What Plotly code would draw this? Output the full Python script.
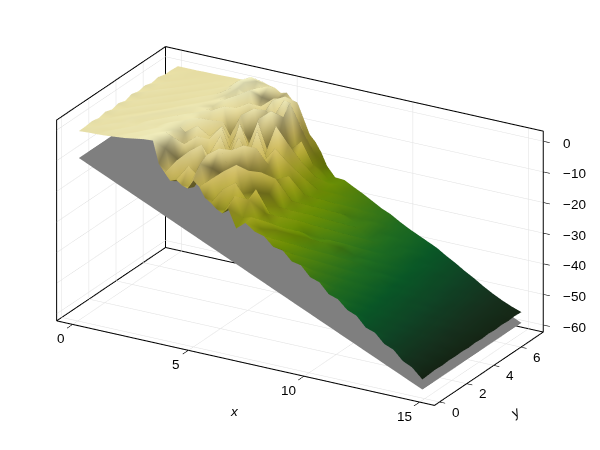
import plotly.graph_objects as go

# axis limits and ticks
x_lim = [-0.69, 15.64]
y_lim = [-0.375, 7.65]
z_lim = [-62.3, 3.3]
x_ticks = [0, 5, 10, 15]
y_ticks = [0, 2, 4, 6]
z_ticks = [0, -10, -20, -30, -40, -50, -60]

# surface nodes, one list of heights per y position
x_nodes = [0.05, 0.45, 0.85, 1.25, 1.65, 2.05, 2.45, 2.85, 3.25,
           3.5, 3.75, 4.0, 4.25, 4.5, 4.75, 5.0, 5.25, 5.5, 5.75, 6.0, 6.25, 6.5, 6.85,
           7.25, 7.65, 8.05, 8.45, 8.85, 9.25, 9.65, 10.05, 10.45, 10.85, 11.25, 11.65, 12.05, 12.45, 12.85, 13.25, 13.65, 14.05, 14.45, 14.9]
y_nodes = [0.0, 0.49, 0.97, 1.46, 1.95, 2.43, 2.92, 3.41, 3.89, 4.38, 4.87, 5.35, 5.84, 6.33, 6.81, 7.3]

z_row_00 = [-0.2, 0.0, 0.1, 0.3, 0.6, 0.9, 1.4, 1.9, 2.1,
            -5.0, -7.5, -9.8, -9.0, -10.4, -11.0, -8.0, -9.6, -12.8, -14.0, -15.6, -16.6, -14.6, -20.5,
            -18.0, -20.2, -21.0, -23.8, -24.2, -27.2, -27.8, -31.0, -32.0, -35.2, -36.2, -39.0, -40.2, -43.4, -44.4, -47.4, -48.6, -51.6, -53.0, -56.2]
z_row_01 = [-0.1, 0.3, -0.2, 0.6, 0.2, 1.0, 1.0, 1.9, 1.7,
            -1.5, -9.5, -4.5, -11.0, -5.5, -12.0, -4.0, -11.5, -8.0, -15.0, -10.5, -17.0, -12.0, -18.5,
            -17.6, -20.8, -23.4, -23.2, -26.6, -27.0, -30.0, -31.0, -33.8, -35.0, -37.8, -39.0, -41.6, -43.0, -45.6, -47.0, -49.4, -51.2, -53.6, -56.0]
z_row_02 = [0.2, -0.3, 0.5, -0.1, 0.8, 0.2, 1.3, 1.4, 1.9,
            1.0, -6.0, -11.0, -2.5, -9.5, -10.5, -2.5, -6.5, -14.0, -6.5, -15.5, -9.5, -17.5, -14.0,
            -20.6, -20.0, -22.0, -25.6, -25.4, -28.8, -29.2, -32.2, -33.2, -36.0, -37.2, -39.9, -41.2, -43.8, -45.2, -47.6, -49.2, -51.8, -53.4, -55.8]
z_row_03 = [-0.3, 0.2, -0.2, 0.3, 0.1, 0.8, 0.5, 1.5, 1.2,
            -7.0, -2.5, -8.5, -12.0, -1.5, -8.0, -12.5, -1.5, -10.0, -13.5, -5.5, -14.5, -16.5, -12.0,
            -19.2, -23.2, -22.6, -24.2, -27.6, -27.8, -31.0, -31.6, -34.6, -35.6, -38.4, -39.4, -42.2, -43.4, -46.0, -47.4, -49.8, -51.5, -53.9, -56.0]
z_row_04 = [0.3, -0.4, 0.2, 0.5, -0.2, 0.9, 0.3, 1.6, 1.0,
            -0.5, -10.0, -1.0, -9.0, -6.5, -12.5, -3.5, -11.5, -3.0, -9.5, -14.5, -8.5, -15.0, -19.0,
            -21.8, -21.2, -25.0, -24.6, -26.2, -29.8, -30.0, -33.2, -34.0, -36.8, -37.8, -40.4, -41.7, -44.3, -45.6, -48.1, -49.6, -52.0, -53.6, -55.8]
z_row_05 = [-0.4, 0.3, -0.3, 0.1, 0.6, -0.1, 1.1, 0.6, 1.5,
            -8.0, 0.5, -9.5, -3.0, -12.5, -1.0, -9.5, -13.0, -8.5, -2.5, -12.0, -15.5, -10.0, -16.5,
            -20.0, -23.6, -23.0, -26.8, -28.4, -28.4, -31.8, -32.4, -35.4, -36.2, -38.9, -40.0, -42.6, -44.0, -46.4, -47.8, -50.2, -51.8, -54.0, -55.9]
z_row_06 = [0.2, -0.5, 0.4, -0.4, 0.3, 0.6, 0.1, 1.3, 0.8,
            1.2, -7.5, -4.0, -11.5, 0.0, -10.5, -13.0, -2.0, -11.5, -12.5, -4.5, -13.5, -16.0, -13.0,
            -22.6, -22.2, -25.8, -25.4, -29.2, -29.0, -30.8, -34.0, -34.8, -37.4, -38.3, -40.9, -42.2, -44.7, -46.1, -48.5, -50.0, -52.3, -53.8, -55.8]
z_row_07 = [-0.5, 0.2, -0.4, 0.3, -0.5, 0.4, 0.9, 0.2, 1.2,
            -6.5, -0.5, -11.0, -1.5, -9.0, -12.0, 0.5, -8.5, -13.5, -0.5, -10.5, -11.0, -15.5, -19.0,
            -21.0, -24.8, -24.2, -28.0, -27.6, -31.0, -31.2, -34.4, -35.1, -37.7, -38.6, -41.2, -42.5, -45.0, -46.3, -48.8, -50.2, -52.4, -54.2, -56.0]
z_row_08 = [0.3, -0.5, 0.2, -0.5, 0.1, -0.2, 0.6, 1.0, 0.7,
            0.8, -9.0, -2.0, -7.0, -12.0, -2.0, -10.0, -11.5, 0.5, -11.0, -13.5, -7.0, -17.0, -15.0,
            -23.4, -23.2, -26.8, -26.4, -30.0, -29.8, -33.2, -33.6, -36.4, -37.2, -39.8, -40.9, -43.3, -44.7, -47.1, -48.6, -50.8, -52.3, -54.2, -55.8]
z_row_09 = [-0.3, 0.3, -0.5, 0.2, -0.6, 0.3, -0.1, 0.7, 0.3,
            -5.0, 1.0, -8.0, -11.0, -0.5, -7.5, -12.5, -0.5, -9.5, -12.5, -1.5, -14.5, -12.5, -20.0,
            -22.0, -25.6, -25.2, -28.8, -28.6, -31.8, -32.0, -35.2, -35.8, -38.3, -39.2, -41.8, -43.0, -45.5, -46.7, -49.2, -50.6, -52.7, -54.1, -56.0]
z_row_10 = [0.2, -0.5, 0.3, -0.6, 0.1, -0.5, 0.5, 0.1, 0.8,
            1.5, -4.0, -0.5, -9.5, -11.0, 0.5, -9.0, -12.0, 1.0, -10.0, -14.0, -8.5, -18.5, -18.0,
            -24.2, -24.2, -27.6, -27.4, -30.8, -30.8, -33.8, -34.4, -37.0, -37.9, -40.2, -41.4, -43.8, -45.2, -47.5, -49.0, -51.2, -52.7, -54.4, -55.8]
z_row_11 = [-0.5, 0.1, -0.7, 0.1, -0.6, 0.1, -0.4, 0.5, 0.9,
            -3.0, 1.8, -7.0, 0.0, -8.5, -11.5, -1.0, -3.5, -11.5, -2.0, -12.5, -16.0, -15.0, -22.0,
            -23.2, -26.4, -26.4, -29.4, -31.0, -31.4, -34.2, -35.0, -37.4, -38.2, -40.5, -41.7, -44.1, -45.5, -47.7, -49.2, -51.3, -52.8, -54.5, -56.0]
z_row_12 = [0.0, -0.6, -0.1, -0.7, 0.0, -0.6, 0.1, -0.2, 2.0,
            2.2, 0.0, 2.4, -6.0, -2.0, -9.5, 0.8, -10.5, 1.6, 1.2, -12.5, -10.5, -20.0, -21.0,
            -25.0, -25.4, -28.2, -28.6, -31.4, -32.0, -34.6, -35.5, -37.6, -38.5, -40.7, -42.0, -44.3, -45.8, -47.9, -49.4, -51.5, -53.0, -54.6, -55.8]
z_row_13 = [-0.6, -0.2, -0.7, -0.3, -0.7, -0.1, -0.6, 0.2, 2.8,
            2.6, -1.5, 1.5, -1.0, -7.0, -0.5, -6.5, 1.0, -7.5, -5.0, -9.0, -18.5, -19.5, -24.5,
            -24.4, -26.9, -27.7, -30.1, -31.0, -33.0, -34.2, -36.5, -37.5, -39.4, -40.5, -42.8, -44.1, -46.4, -47.8, -50.0, -51.5, -53.3, -54.5, -56.0]
z_row_14 = [-0.6, -0.5, -0.6, -0.7, -0.5, -0.6, -0.3, -0.2, 1.6,
            3.0, 2.0, -1.0, 1.2, -3.5, -6.0, -1.5, -8.0, -2.0, -11.0, -14.5, -17.5, -22.0, -25.0,
            -25.6, -26.6, -28.7, -29.8, -32.1, -33.0, -35.2, -36.4, -38.2, -39.3, -41.2, -42.7, -44.7, -46.4, -48.3, -50.0, -51.9, -53.4, -54.8, -55.8]
z_row_15 = [-0.8, -0.8, -0.8, -0.7, -0.7, -0.6, -0.5, -0.5, 0.2,
            0.4, 0.2, -0.4, -0.8, -2.0, -1.5, -3.5, -4.5, -9.0, -13.5, -15.5, -18.5, -22.5, -25.6,
            -25.8, -27.4, -28.9, -30.6, -32.3, -33.6, -35.4, -37.0, -38.4, -39.8, -41.2, -43.1, -44.8, -46.7, -48.4, -50.3, -52.0, -53.5, -54.8, -56.0]
z_rows = [z_row_00, z_row_01, z_row_02, z_row_03, z_row_04, z_row_05, z_row_06, z_row_07,
          z_row_08, z_row_09, z_row_10, z_row_11, z_row_12, z_row_13, z_row_14, z_row_15]

# flat grey plate under the surface
plate_x = [0.05, 14.9]
plate_y = [0.0, 7.3]
plate_z = [[-9.0, -59.5], [-9.0, -59.5]]

fig = go.Figure()

fig.add_trace(go.Surface(
    x=plate_x, y=plate_y, z=plate_z,
    surfacecolor=[[0, 0], [0, 0]],
    colorscale=[[0, "#7f7f7f"], [1, "#7f7f7f"]],
    showscale=False,
    lighting=dict(ambient=1.0, diffuse=0.0, specular=0.0, fresnel=0.0),
))

# go.Surface resamples and smooths the grid, so the heights go in as a mesh
nx = len(x_nodes)
mesh_x = [x for y in y_nodes for x in x_nodes]
mesh_y = [y for y in y_nodes for x in x_nodes]
mesh_z = [z for row in z_rows for z in row]
tri_i, tri_j, tri_k = [], [], []
for r in range(len(y_nodes) - 1):
    for c in range(nx - 1):
        a = r * nx + c
        tri_i += [a, a]
        tri_j += [a + 1, a + 1 + nx]
        tri_k += [a + 1 + nx, a + nx]

fig.add_trace(go.Mesh3d(
    x=mesh_x, y=mesh_y, z=mesh_z, i=tri_i, j=tri_j, k=tri_k,
    intensity=mesh_z,
    colorscale="speed", reversescale=True,
    cmin=-58, cmax=3,
    showscale=False,
    flatshading=False,
    lighting=dict(ambient=0.47, diffuse=0.5, specular=0.03, roughness=0.6, fresnel=0.0),
    lightposition=dict(x=10, y=100000, z=0),
))

x0, x1 = x_lim
y0, y1 = y_lim
z0, z1 = z_lim


def add_lines(xs, ys, zs, color, width):
    fig.add_trace(go.Scatter3d(x=xs, y=ys, z=zs, mode="lines", line=dict(color=color, width=width),
                               showlegend=False, hoverinfo="skip"))


# grid on the floor and the two back walls
grid_x, grid_y, grid_z = [], [], []
for t in x_ticks:
    grid_x += [t, t, t, None]
    grid_y += [y0, y1, y1, None]
    grid_z += [z0, z0, z1, None]
for t in y_ticks:
    grid_x += [x1, x0, x0, None]
    grid_y += [t, t, t, None]
    grid_z += [z0, z0, z1, None]
for t in z_ticks:
    grid_x += [x0, x0, x1, None]
    grid_y += [y0, y1, y1, None]
    grid_z += [t, t, t, None]
add_lines(grid_x, grid_y, grid_z, "#e0e0e0", 1)

# box frame, same edges as the reference
frame_x = [x0, x1, x1, x0, x0, x0, x0, x0, None, x0, x1, x1, None, x1, x1]
frame_y = [y0, y0, y1, y1, y0, y0, y1, y1, None, y1, y1, y1, None, y1, y1]
frame_z = [z0, z0, z0, z0, z0, z1, z1, z0, None, z1, z1, z0, None, z0, z0]
add_lines(frame_x, frame_y, frame_z, "black", 2)

# tick marks
tick_x, tick_y, tick_z = [], [], []
for t in x_ticks:
    tick_x += [t, t, None]
    tick_y += [y0, y0 - 0.42, None]
    tick_z += [z0, z0, None]
for t in y_ticks:
    tick_x += [x1, x1 + 0.24, None]
    tick_y += [t, t, None]
    tick_z += [z0, z0, None]
for t in z_ticks:
    tick_x += [x1, x1 + 0.28, None]
    tick_y += [y1, y1, None]
    tick_z += [t, t, None]
add_lines(tick_x, tick_y, tick_z, "black", 1.2)

label_font = dict(family="Liberation Sans", size=13.5, color="black")
notes = []
for t in x_ticks:
    notes.append(dict(x=t, y=y0, z=z0, text=str(t), showarrow=False, xanchor="right", yanchor="middle",
                      xshift=-6, yshift=-14, font=label_font))
for t in y_ticks:
    notes.append(dict(x=x1, y=t, z=z0, text=str(t), showarrow=False, xanchor="center", yanchor="middle",
                      xshift=16, yshift=-10, font=label_font))
for t in z_ticks:
    notes.append(dict(x=x1, y=y1, z=t, text=str(t).replace("-", "\u2212"), showarrow=False, xanchor="left",
                      align="left", yanchor="middle", xshift=17, yshift=-2, font=label_font))
notes.append(dict(x=(x0 + x1) / 2, y=y0, z=z0, text="<i>x</i>", showarrow=False, xshift=-11, yshift=-48, font=label_font))
notes.append(dict(x=x1, y=(y0 + y1) / 2, z=z0, text="<i>y</i>", showarrow=False, xshift=26, yshift=-44,
                  textangle=-34, font=label_font))

# the native axes stay hidden: plotly cannot put the z labels on this edge
pad = 0.1


def hidden_axis(lim):
    span = lim[1] - lim[0]
    return dict(range=[lim[0] - pad * span, lim[1] + pad * span], visible=False, showspikes=False)


fig.update_layout(
    width=600, height=450,
    margin=dict(l=0, r=0, t=0, b=0),
    paper_bgcolor="white",
    showlegend=False,
    scene=dict(
        domain=dict(x=[0, 0.974], y=[0.031, 1]),
        xaxis=hidden_axis(x_lim),
        yaxis=hidden_axis(y_lim),
        zaxis=hidden_axis(z_lim),
        aspectmode="manual",
        aspectratio=dict(x=2 * (1 + 2 * pad), y=1 + 2 * pad, z=1 + 2 * pad),
        camera=dict(
            projection=dict(type="orthographic"),
            eye=dict(x=0.853, y=-1.48, z=0.72),
            up=dict(x=0, y=0, z=1),
            center=dict(x=0, y=0, z=0),
        ),
        annotations=notes,
    ),
)

fig.write_html("out.html")
